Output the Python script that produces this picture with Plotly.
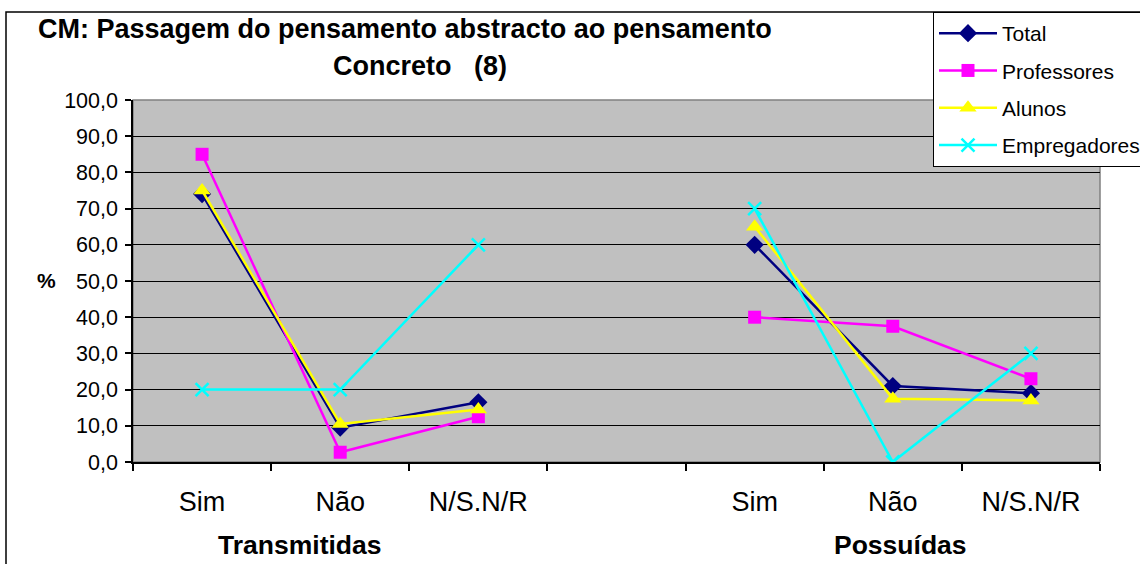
import plotly.graph_objects as go

categories = ["Sim", "Não", "N/S.N/R", "", "Sim", "Não", "N/S.N/R"]
groups = ["Transmitidas", "Possuídas"]
total = [74.0, 9.5, 16.5, None, 60.0, 21.0, 19.0]
professores = [85.0, 2.7, 12.5, None, 40.0, 37.5, 23.0]
alunos = [75.0, 10.5, 14.5, None, 65.0, 17.5, 17.0]
empregadores = [20.0, 20.0, 60.0, None, 70.0, 0.0, 30.0]
y_ticks = [0, 10, 20, 30, 40, 50, 60, 70, 80, 90, 100]

xs = list(range(len(categories)))

W, H = 1140, 564
L, R, T, B = 133, 1100, 100, 462
pw, ph = R - L, B - T


def px(x):
    return (x - L) / pw


def py(y):
    return (B - y) / ph


series = [
    ("Total", total, "#000080", dict(symbol="diamond", size=14)),
    ("Professores", professores, "#FF00FF", dict(symbol="square", size=13)),
    ("Alunos", alunos, "#FFFF00", dict(symbol="triangle-up", size=15)),
    ("Empregadores", empregadores, "#00FFFF", dict(symbol="x-thin", size=13)),
]

fig = go.Figure()
for name, vals, color, mk in series:
    marker = dict(color=color, **mk)
    if mk["symbol"] == "x-thin":
        marker["line"] = dict(color=color, width=2.5)
    else:
        marker["line"] = dict(width=0)
    fig.add_trace(go.Scatter(
        x=xs, y=vals, name=name, mode="lines+markers",
        line=dict(color=color, width=2.5),
        marker=marker, connectgaps=False,
        legendgroup=name,
    ))

font = "Liberation Sans, Arial, sans-serif"

fig.update_layout(
    width=W, height=H,
    margin=dict(l=L, r=W - R, t=T, b=H - B, pad=0, autoexpand=False),
    paper_bgcolor="white",
    plot_bgcolor="#C0C0C0",
    separators=", ",
    font=dict(family=font, color="black", size=20),
    showlegend=True,
    legend=dict(
        x=px(933), y=py(12), xanchor="left", yanchor="top",
        bgcolor="white", bordercolor="black", borderwidth=1,
        font=dict(size=21, family=font, color="black"),
        tracegroupgap=7, itemwidth=58,
    ),
    xaxis=dict(
        range=[-0.5, len(categories) - 0.5],
        tickmode="array", tickvals=xs, ticktext=categories,
        ticks="", showgrid=False, zeroline=False,
        showline=True, linecolor="black", linewidth=1.5,
        tickfont=dict(size=27, family=font, color="black"),
        ticklabelstandoff=15,
        minor=dict(tickvals=[i - 0.5 for i in range(len(categories) + 1)],
                   ticks="outside", ticklen=7, tickcolor="black", tickwidth=1.5,
                   showgrid=False),
    ),
    yaxis=dict(
        range=[0, 100], tickmode="array", tickvals=y_ticks, tickformat=".1f",
        ticks="outside", ticklen=6, tickcolor="black", tickwidth=1.5,
        showgrid=True, gridcolor="black", gridwidth=1.2,
        zeroline=False, showline=True, linecolor="black", linewidth=1.5,
        tickfont=dict(size=21.5, family=font, color="black"),
        ticklabelstandoff=3,
    ),
    shapes=[
        dict(type="rect", xref="paper", yref="paper", x0=0, x1=1, y0=0, y1=1,
             line=dict(color="#808080", width=1.5), layer="below"),
        dict(type="rect", xref="paper", yref="paper",
             x0=px(6), x1=px(1300), y0=py(700), y1=py(12),
             line=dict(color="black", width=1.5)),
    ],
    annotations=[
        dict(text="<b>CM: Passagem do pensamento abstracto ao pensamento</b>",
             xref="paper", yref="paper", x=px(405), y=py(29),
             xanchor="center", yanchor="middle", showarrow=False,
             font=dict(size=27, family=font, color="black")),
        dict(text="<b>Concreto&nbsp;&nbsp;&nbsp;(8)</b>",
             xref="paper", yref="paper", x=px(420), y=py(66),
             xanchor="center", yanchor="middle", showarrow=False,
             font=dict(size=27, family=font, color="black")),
        dict(text="<b>%</b>", xref="paper", yref="paper", x=px(46), y=py(280),
             xanchor="center", yanchor="middle", showarrow=False,
             font=dict(size=21, family=font, color="black")),
        dict(text="<b>" + groups[0] + "</b>", xref="paper", yref="paper",
             x=px(299), y=py(545), xanchor="center", yanchor="middle",
             showarrow=False, font=dict(size=26.5, family=font, color="black")),
        dict(text="<b>" + groups[1] + "</b>", xref="paper", yref="paper",
             x=px(900), y=py(545), xanchor="center", yanchor="middle",
             showarrow=False, font=dict(size=26.5, family=font, color="black")),
    ],
)

fig.write_html(
    "out.html",
    config={"displayModeBar": False},
    post_script="document.body.style.margin='0';document.body.style.overflow='hidden';",
)
